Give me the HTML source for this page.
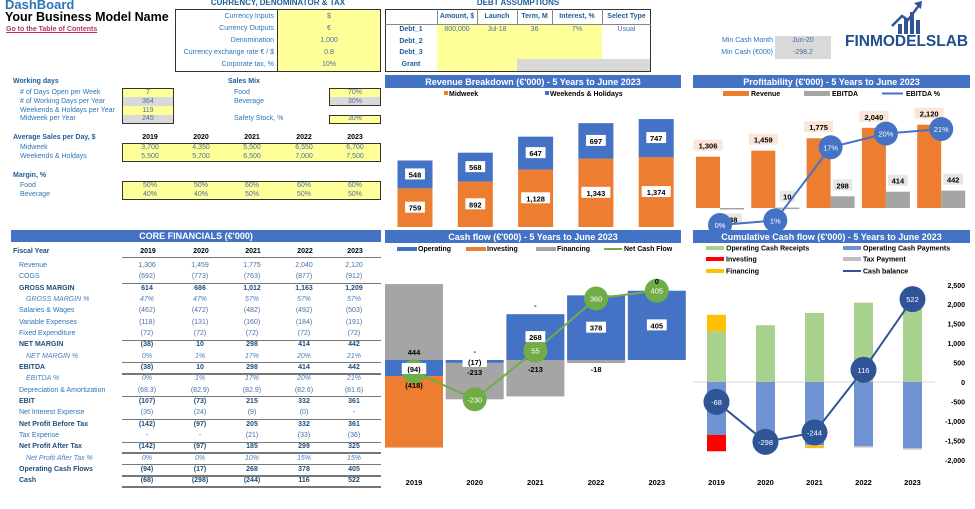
<!DOCTYPE html>
<html><head><meta charset="utf-8">
<style>
body{margin:0;width:975px;height:509px;overflow:hidden;background:#fff;font-family:"Liberation Sans",sans-serif;}
#root{position:relative;width:975px;height:509px;}
#root div{position:absolute;white-space:nowrap;line-height:10px;font-size:7px;}
.lb{color:#2E75B6;}
.hd{color:#1F5D99;font-weight:bold;}
.v{color:#4A6FA5;}
.bk{color:#000;font-weight:bold;}
.it{color:#4A7FC0;font-style:italic;}
.bb{color:#1F4E79;font-weight:bold;}
svg text{font-family:"Liberation Sans",sans-serif;}
</style></head>
<body>
<div id="root">
<div style="left:5px;top:-2px;font-size:13px;line-height:14px;font-weight:bold;color:#2E75B6">DashBoard</div>
<div style="left:5px;top:10px;font-size:12.5px;line-height:14px;font-weight:bold;color:#000">Your Business Model Name</div>
<div style="left:6px;top:25px;font-size:7px;font-weight:bold;color:#C0306A;text-decoration:underline">Go to the Table of Contents</div>
<div style="left:175px;top:-2px;width:206px;text-align:center;font-size:8px;font-weight:bold;color:#1F5D99">CURRENCY, DENOMINATOR &amp; TAX</div>
<div style="left:385px;top:-2px;width:266px;text-align:center;font-size:8px;font-weight:bold;color:#1F5D99">DEBT ASSUMPTIONS</div>
<div style="left:845px;top:33px;font-size:15.5px;line-height:18px;font-weight:bold;color:#1F4E8C">FINMODELSLAB</div>
</div>
<script>
const root=document.getElementById('root');
function T(x,y,w,text,cls,name,align,extra){
 const d=document.createElement('div');
 d.style.left=x+'px';d.style.top=y+'px';
 if(w)d.style.width=w+'px';
 d.style.textAlign=align||'left';
 if(extra)d.style.cssText+=extra;
 d.className=cls;d.textContent=text;
 
 
 root.appendChild(d);return d;}
function B(x,y,w,h,bg,border,name,inter){
 const d=document.createElement('div');
 d.style.cssText=`left:${x}px;top:${y}px;width:${w}px;height:${h}px;background:${bg};box-sizing:border-box;${border?'border:'+border:''}`;
 
 
 root.appendChild(d);return d;}
const Y='#FFFF99',G='#D9D9D9';
B(175,9,206,63,'#fff','1px solid #333','currency-box');
B(277,9,104,63,Y,'1px solid #333','currency-inputs',true);
const curL=['Currency Inputs','Currency Outputs','Denomination','Currency exchange rate € / $','Corporate tax, %'];
const curV=['$','€','1,000','0.8','10%'];
curL.forEach((l,i)=>{T(176,12+i*12,98,l,'lb','currency-label','right');T(277,12+i*12,104,curV[i],'v','currency-value','center');});
B(385,9,266,63,'#fff','1px solid #333','debt-table');
B(437,24,165,36,Y,null,'debt-inputs',true);
B(437,59,80,12,Y,null,'grant-inputs',true);
B(517,59,133,12,G,null,'grant-disabled');
const dh=['Amount, $','Launch','Term, M','Interest, %','Select Type'];
const dx=[437,477,517,552,602,651];
dh.forEach((h,i)=>{T(dx[i],12,dx[i+1]-dx[i],h,'hd','debt-header','center');B(dx[i],9,1,15,'#888',null,'debt-col-sep');});
B(385,24,266,1,'#888',null,'debt-header-line');
['Debt_1','Debt_2','Debt_3','Grant'].forEach((l,i)=>T(385,25+i*11.7,52,l,'hd','debt-row-label','center'));
['800,000','Jul-18','36','7%','Usual'].forEach((v,i)=>T(dx[i],25,dx[i+1]-dx[i],v,'v','debt1-value','center'));
T(700,36,73,'Min Cash Month','lb','min-cash-month-label','right');
T(700,48,73,'Min Cash (€000)','lb','min-cash-label','right');
B(775,36,56,23,G,null,'min-cash-box');
T(775,36,56,'Jun-20','v','min-cash-month','center');
T(775,48,56,'-298.2','v','min-cash-value','center');
T(13,77,100,'Working days','hd','working-days-title');
['# of Days Open per Week','# of Working Days per Year','Weekends & Holdays per Year','Midweek per Year'].forEach((l,i)=>T(20,88+i*8.8,100,l,'lb','working-days-label'));
B(122,88,52,36,Y,'1px solid #333','working-days-box');
B(123,97,50,9,G,null,'working-days-calc');B(123,115,50,8,G,null,'midweek-calc');
['7','364','119','245'].forEach((v,i)=>T(122,88+i*8.8,52,v,'v','working-days-value','center'));
T(228,77,80,'Sales Mix','hd','sales-mix-title');
T(234,88,80,'Food','lb','sales-mix-food');T(234,97,80,'Beverage','lb','sales-mix-beverage');
T(234,114,80,'Safety Stock, %','lb','safety-stock-label');
B(329,88,52,18,Y,'1px solid #333','sales-mix-box');B(330,97,50,8,G,null,'beverage-calc');
T(329,88,52,'70%','v','food-share','center');T(329,97,52,'30%','v','beverage-share','center');
B(329,115,52,9,Y,'1px solid #333','safety-stock-box');T(329,114,52,'30%','v','safety-stock-value','center');
const yrs=['2019','2020','2021','2022','2023'];
const ycx=[150,201,252,304,355];
T(13,133,130,'Average Sales per Day, $','hd','avg-sales-title');
yrs.forEach((y,i)=>T(ycx[i]-25,133,50,y,'bk','avg-sales-year','center'));
B(122,143,259,19,Y,'1px solid #333','avg-sales-box');
T(20,143,90,'Midweek','lb','avg-midweek-label');T(20,152,90,'Weekends & Holdays','lb','avg-weekend-label');
const mid=['3,700','4,350','5,500','6,550','6,700'],wk=['5,500','5,700','6,500','7,000','7,500'];
yrs.forEach((y,i)=>{T(ycx[i]-25,143,50,mid[i],'v','avg-midweek-value','center');T(ycx[i]-25,152,50,wk[i],'v','avg-weekend-value','center');});
T(13,171,90,'Margin, %','hd','margin-title');
T(20,181,90,'Food','lb','margin-food-label');T(20,190,90,'Beverage','lb','margin-beverage-label');
B(122,181,259,19,Y,'1px solid #333','margin-box');
const mf=['50%','50%','60%','60%','60%'],mb=['40%','40%','50%','50%','50%'];
yrs.forEach((y,i)=>{T(ycx[i]-25,181,50,mf[i],'v','margin-food-value','center');T(ycx[i]-25,190,50,mb[i],'v','margin-beverage-value','center');});
B(11,230,370,12,'#4472C4',null,'core-financials-header');
T(11,231,370,'CORE FINANCIALS (€\'000)','bk','core-financials-title','center','color:#fff;font-size:9px');
T(13,247,80,'Fiscal Year','bb','fiscal-year-label');
const cr=[173,226,278,330,380];
yrs.forEach((y,i)=>T(cr[i]-45,247,40,y,'bk','fiscal-year','center'));
B(122,257,259,1,'#777',null,'fiscal-year-line');
const rows=[
['Revenue','n',['1,306','1,459','1,775','2,040','2,120']],
['COGS','n',['(692)','(773)','(763)','(877)','(912)']],
['GROSS MARGIN','b',['614','686','1,012','1,163','1,209']],
['GROSS MARGIN %','p',['47%','47%','57%','57%','57%']],
['Salaries & Wages','n',['(462)','(472)','(482)','(492)','(503)']],
['Variable Expenses','n',['(118)','(131)','(160)','(184)','(191)']],
['Fixed Expenditure','n',['(72)','(72)','(72)','(72)','(72)']],
['NET MARGIN','b',['(38)','10','298','414','442']],
['NET MARGIN %','p',['0%','1%','17%','20%','21%']],
['EBITDA','b',['(38)','10','298','414','442']],
['EBITDA %','p',['0%','1%','17%','20%','21%']],
['Depreciation & Amortization','n',['(68.3)','(82.9)','(82.9)','(82.6)','(81.6)']],
['EBIT','b',['(107)','(73)','215','332','361']],
['Net Interest Expense','n',['(35)','(24)','(9)','(0)','-']],
['Net Profit Before Tax','b',['(142)','(97)','205','332','361']],
['Tax Expense','n',['-','-','(21)','(33)','(36)']],
['Net Profit After Tax','b',['(142)','(97)','185','299','325']],
['Net Profit After Tax %','p',['0%','0%','10%','15%','15%']],
['Operating Cash Flows','b',['(94)','(17)','268','378','405']],
['Cash','b',['(68)','(298)','(244)','116','522']]];
rows.forEach((r,k)=>{
 const y=261+k*11.33;
 const cls=r[1]==='b'?'bb':r[1]==='p'?'it':'lb';
 T(r[1]==='p'?26:19,y,110,r[0],cls,'row-label');
 r[2].forEach((v,i)=>T(cr[i]-50,y,48,v,r[1]==='b'?'bb':r[1]==='p'?'it':'v','row-value','center'));
 if(r[1]==='b'&&k>0)B(122,y-0.5,259,1,'#777',null,'row-separator');
 if([9,16,18,19].includes(k))B(122,y+10,259,2,'#777',null,'row-underline');
});
</script>
<svg id="ch" width="975" height="509" style="position:absolute;left:0;top:0"></svg>
<script>
const years=['2019','2020','2021','2022','2023'];
const revMid=[759,892,1128,1343,1374];
const revWk=[548,568,647,697,747];
const profRev=[1306,1459,1775,2040,2120];
const profEbitda=[-38,10,298,414,442];
const profPct=[0,1,17,20,21];
const cfOper=[-94,-17,268,378,405];
const cfInv=[-418,0,0,0,0];
const cfFin=[444,-213,-213,-18,0];
const cfNet=[-68,-230,55,360,405];
const ccReceipts=[1306,1459,1775,2040,2120];
const ccPayments=[-1362,-1620,-1620,-1650,-1700];
const ccInvesting=[-418,0,0,0,0];
const ccTax=[0,0,-21,-33,-36];
const ccFinancing=[420,0,-60,0,0];
const ccBalance=[-68,-298,-244,116,522];
const ccTicks=[2500,2000,1500,1000,500,0,-500,-1000,-1500,-2000];
const NS='http://www.w3.org/2000/svg';
const svg=document.getElementById('ch');
function E(tag,a,name){const e=document.createElementNS(NS,tag);for(const k in a)e.setAttribute(k,a[k]);
 
 
 svg.appendChild(e);return e;}
function TX(x,y,s,name,o){o=o||{};const t=E('text',{x:x,y:y,'font-size':o.fs||7.5,'font-weight':o.fw||'bold','text-anchor':o.a||'middle',fill:o.c||'#000'},name);t.textContent=s;return t;}
function LB(x,y,s,name,bg,c){const w=s.length*4.6+6;E('rect',{x:x-w/2,y:y-6,width:w,height:11,fill:bg},name+'-box');TX(x,y+3,s,name,{c:c||'#000'});}
function title(x,y,w,s,name){E('rect',{x:x,y:y,width:w,height:13,fill:'#4472C4'},name+'-bar');TX(x+w/2,y+10,s,name,{c:'#fff',fs:9});}
const fmt=v=>v.toLocaleString('en-US');
// revenue
const yRev=v=>227-v*0.0509, xRev=i=>397.5+i*60.3;
title(385,75,296,"Revenue Breakdown (€'000) - 5 Years to June 2023",'revenue-title');
E('rect',{x:444,y:91,width:4,height:4,fill:'#ED7D31'},'legend-midweek-swatch');TX(449,96,'Midweek','legend-midweek',{a:'start',fs:7});
E('rect',{x:545,y:91,width:4,height:4,fill:'#4472C4'},'legend-weekends-swatch');TX(550,96,'Weekends & Holidays','legend-weekends',{a:'start',fs:7});
years.forEach((y,i)=>{
 const x=xRev(i);
 E('rect',{x:x,y:yRev(revMid[i]),width:35,height:yRev(0)-yRev(revMid[i]),fill:'#ED7D31'},'bar-midweek');
 E('rect',{x:x,y:yRev(revMid[i]+revWk[i]),width:35,height:yRev(0)-yRev(revWk[i]),fill:'#4472C4'},'bar-weekends');
 LB(x+17.5,(yRev(0)+yRev(revMid[i]))/2,fmt(revMid[i]),'label-midweek','#fff');
 LB(x+17.5,(yRev(revMid[i])+yRev(revMid[i]+revWk[i]))/2,fmt(revWk[i]),'label-weekends','#fff');
});
// profitability
const yP=v=>208-v*0.0393, yPct=p=>225-p*4.57, gx=i=>696+i*55.3;
title(693,75,277,"Profitability (€'000) - 5 Years to June 2023",'profitability-title');
E('rect',{x:723,y:91,width:26,height:5,fill:'#ED7D31'},'legend-revenue-swatch');TX(751,96,'Revenue','legend-revenue',{a:'start',fs:7});
E('rect',{x:804,y:91,width:26,height:5,fill:'#A5A5A5'},'legend-ebitda-swatch');TX(832,96,'EBITDA','legend-ebitda',{a:'start',fs:7});
E('line',{x1:882,y1:93.5,x2:903,y2:93.5,stroke:'#4472C4','stroke-width':2},'legend-ebitda-pct-line');TX(906,96,'EBITDA %','legend-ebitda-pct',{a:'start',fs:7});
years.forEach((y,i)=>{
 const x=gx(i);
 E('rect',{x:x,y:yP(profRev[i]),width:24,height:yP(0)-yP(profRev[i]),fill:'#ED7D31'},'bar-revenue');
 const e=profEbitda[i];
 E('rect',{x:x+24,y:Math.min(yP(0),yP(e)),width:24,height:Math.max(1.5,Math.abs(yP(0)-yP(e))),fill:'#A5A5A5'},'bar-ebitda');
 LB(x+12,yP(profRev[i])-11,fmt(profRev[i]),'label-revenue','#FBE5D6');
 LB(x+36,e<0?yP(e)+10:yP(e)-11,fmt(e),'label-ebitda','#E7E6E6');
});
E('polyline',{points:profPct.map((p,i)=>(gx(i)+24)+','+yPct(p)).join(' '),fill:'none',stroke:'#4472C4','stroke-width':2},'ebitda-pct-line');
profPct.forEach((p,i)=>{E('circle',{cx:gx(i)+24,cy:yPct(p),r:12,fill:'#4472C4'},'ebitda-pct-point');TX(gx(i)+24,yPct(p)+3,p+'%','ebitda-pct-label',{c:'#fff',fw:'normal'});});
// cash flow
const yC=v=>360-v*0.171, xC=i=>385+i*60.7;
E('rect',{x:385,y:228,width:300,height:281,fill:'#fff'},'cashflow-bg');
title(385,230,296,"Cash flow (€'000) - 5 Years to June 2023",'cashflow-title');
[['#4472C4','Operating',397],['#ED7D31','Investing',466],['#A5A5A5','Financing',536]].forEach(l=>{E('rect',{x:l[2],y:247,width:20,height:4,fill:l[0]},'legend-cf-swatch');TX(l[2]+21,251,l[1],'legend-cf',{a:'start',fs:7});});
E('line',{x1:604,y1:249,x2:622,y2:249,stroke:'#70AD47','stroke-width':2},'legend-net-line');TX(624,251,'Net Cash Flow','legend-net',{a:'start',fs:7});
years.forEach((y,i)=>{
 const x=xC(i);let pos=0,neg=0;
 [[cfOper,'#4472C4','bar-operating'],[cfInv,'#ED7D31','bar-investing'],[cfFin,'#A5A5A5','bar-financing']].forEach(s=>{
  const v=s[0][i];if(!v)return;
  let a,b;if(v>0){a=pos;b=pos+v;pos=b;}else{a=neg;b=neg+v;neg=b;}
  E('rect',{x:x,y:Math.min(yC(a),yC(b)),width:58,height:Math.abs(yC(a)-yC(b)),fill:s[1]},s[2]);
 });
 TX(x+29,485,y,'cf-year',{fs:7.5});
});
E('polyline',{points:cfNet.map((v,i)=>(xC(i)+29)+','+yC(v)).join(' '),fill:'none',stroke:'#70AD47','stroke-width':2},'net-cash-line');
cfNet.forEach((v,i)=>{E('circle',{cx:xC(i)+29,cy:yC(v),r:12,fill:'#70AD47'},'net-cash-point');if(i>0)TX(xC(i)+29,yC(v)+3,String(v),'net-cash-label',{c:'#fff',fw:'normal'});});
years.forEach((y,i)=>{
 const x=xC(i)+29,o=cfOper[i],f=cfFin[i];
 LB(x,i==0?369:(o>0?yC(o/2):362),o<0?'('+(-o)+')':fmt(o),'label-operating','#fff');
 if(f)TX(x,i==0?355:(i==1?375:372),String(f),'label-financing');
});
TX(xC(1)+29,354,'-','label-zero');TX(xC(2)+29,308,'-','label-zero');TX(xC(4)+29,284,'0','label-zero');
TX(xC(0)+29,388,'(418)','label-investing');
// cumulative
const yK=v=>382-v*0.0389, yB=v=>390-v*0.174, xK=i=>707+i*49;
title(693,230,277,"Cumulative Cash flow (€'000) - 5 Years to June 2023",'cumulative-title');
[['#A9D18E','Operating Cash Receipts',706,248],['#6F93D3','Operating Cash Payments',843,248],['#FF0000','Investing',706,259],['#BFBFBF','Tax Payment',843,259],['#FFC000','Financing',706,271]].forEach(l=>{E('rect',{x:l[2],y:l[3]-2,width:18,height:4,fill:l[0]},'legend-cc-swatch');TX(l[2]+20,l[3]+2.5,l[1],'legend-cc',{a:'start',fs:7});});
E('line',{x1:843,y1:271,x2:861,y2:271,stroke:'#2F5597','stroke-width':2},'legend-balance-line');TX(863,273.5,'Cash balance','legend-balance',{a:'start',fs:7});
E('line',{x1:693,y1:yK(0),x2:935,y2:yK(0),stroke:'#D9D9D9','stroke-width':1},'zero-gridline');
ccTicks.forEach(t=>TX(965,yK(t)+3,fmt(t),'y-tick',{a:'end',fs:7}));
years.forEach((y,i)=>{
 const x=xK(i);let pos=0,neg=0;
 [[ccReceipts,'#A9D18E','bar-receipts'],[ccPayments,'#6F93D3','bar-payments'],[ccInvesting,'#FF0000','bar-investing-cc'],[ccTax,'#BFBFBF','bar-tax'],[ccFinancing,'#FFC000','bar-financing-cc']].forEach(s=>{
  const v=s[0][i];if(!v)return;
  let a,b;if(v>0){a=pos;b=pos+v;pos=b;}else{a=neg;b=neg+v;neg=b;}
  E('rect',{x:x,y:Math.min(yK(a),yK(b)),width:19,height:Math.abs(yK(a)-yK(b)),fill:s[1]},s[2]);
 });
 TX(x+9.5,485,y,'cc-year',{fs:7.5});
});
E('polyline',{points:ccBalance.map((v,i)=>(xK(i)+9.5)+','+yB(v)).join(' '),fill:'none',stroke:'#2F5597','stroke-width':2},'cash-balance-line');
ccBalance.forEach((v,i)=>{E('circle',{cx:xK(i)+9.5,cy:yB(v),r:13,fill:'#2F5597'},'cash-balance-point');TX(xK(i)+9.5,yB(v)+3,String(v),'cash-balance-label',{c:'#fff',fw:'normal'});});
// logo icon
[[898,24,4,10],[904,18,4,16],[910,12,4,22],[916,20,4,14]].forEach(b=>E('rect',{x:b[0],y:b[1],width:b[2],height:b[3],fill:'#2F5597'},'logo-bar'));
E('polyline',{points:'892,26 902,16 908,20 920,4',fill:'none',stroke:'#2F5597','stroke-width':2.5},'logo-arrow');
E('polygon',{points:'914,3 922,1 921,9',fill:'#2F5597'},'logo-arrowhead');
</script>
</body></html>
